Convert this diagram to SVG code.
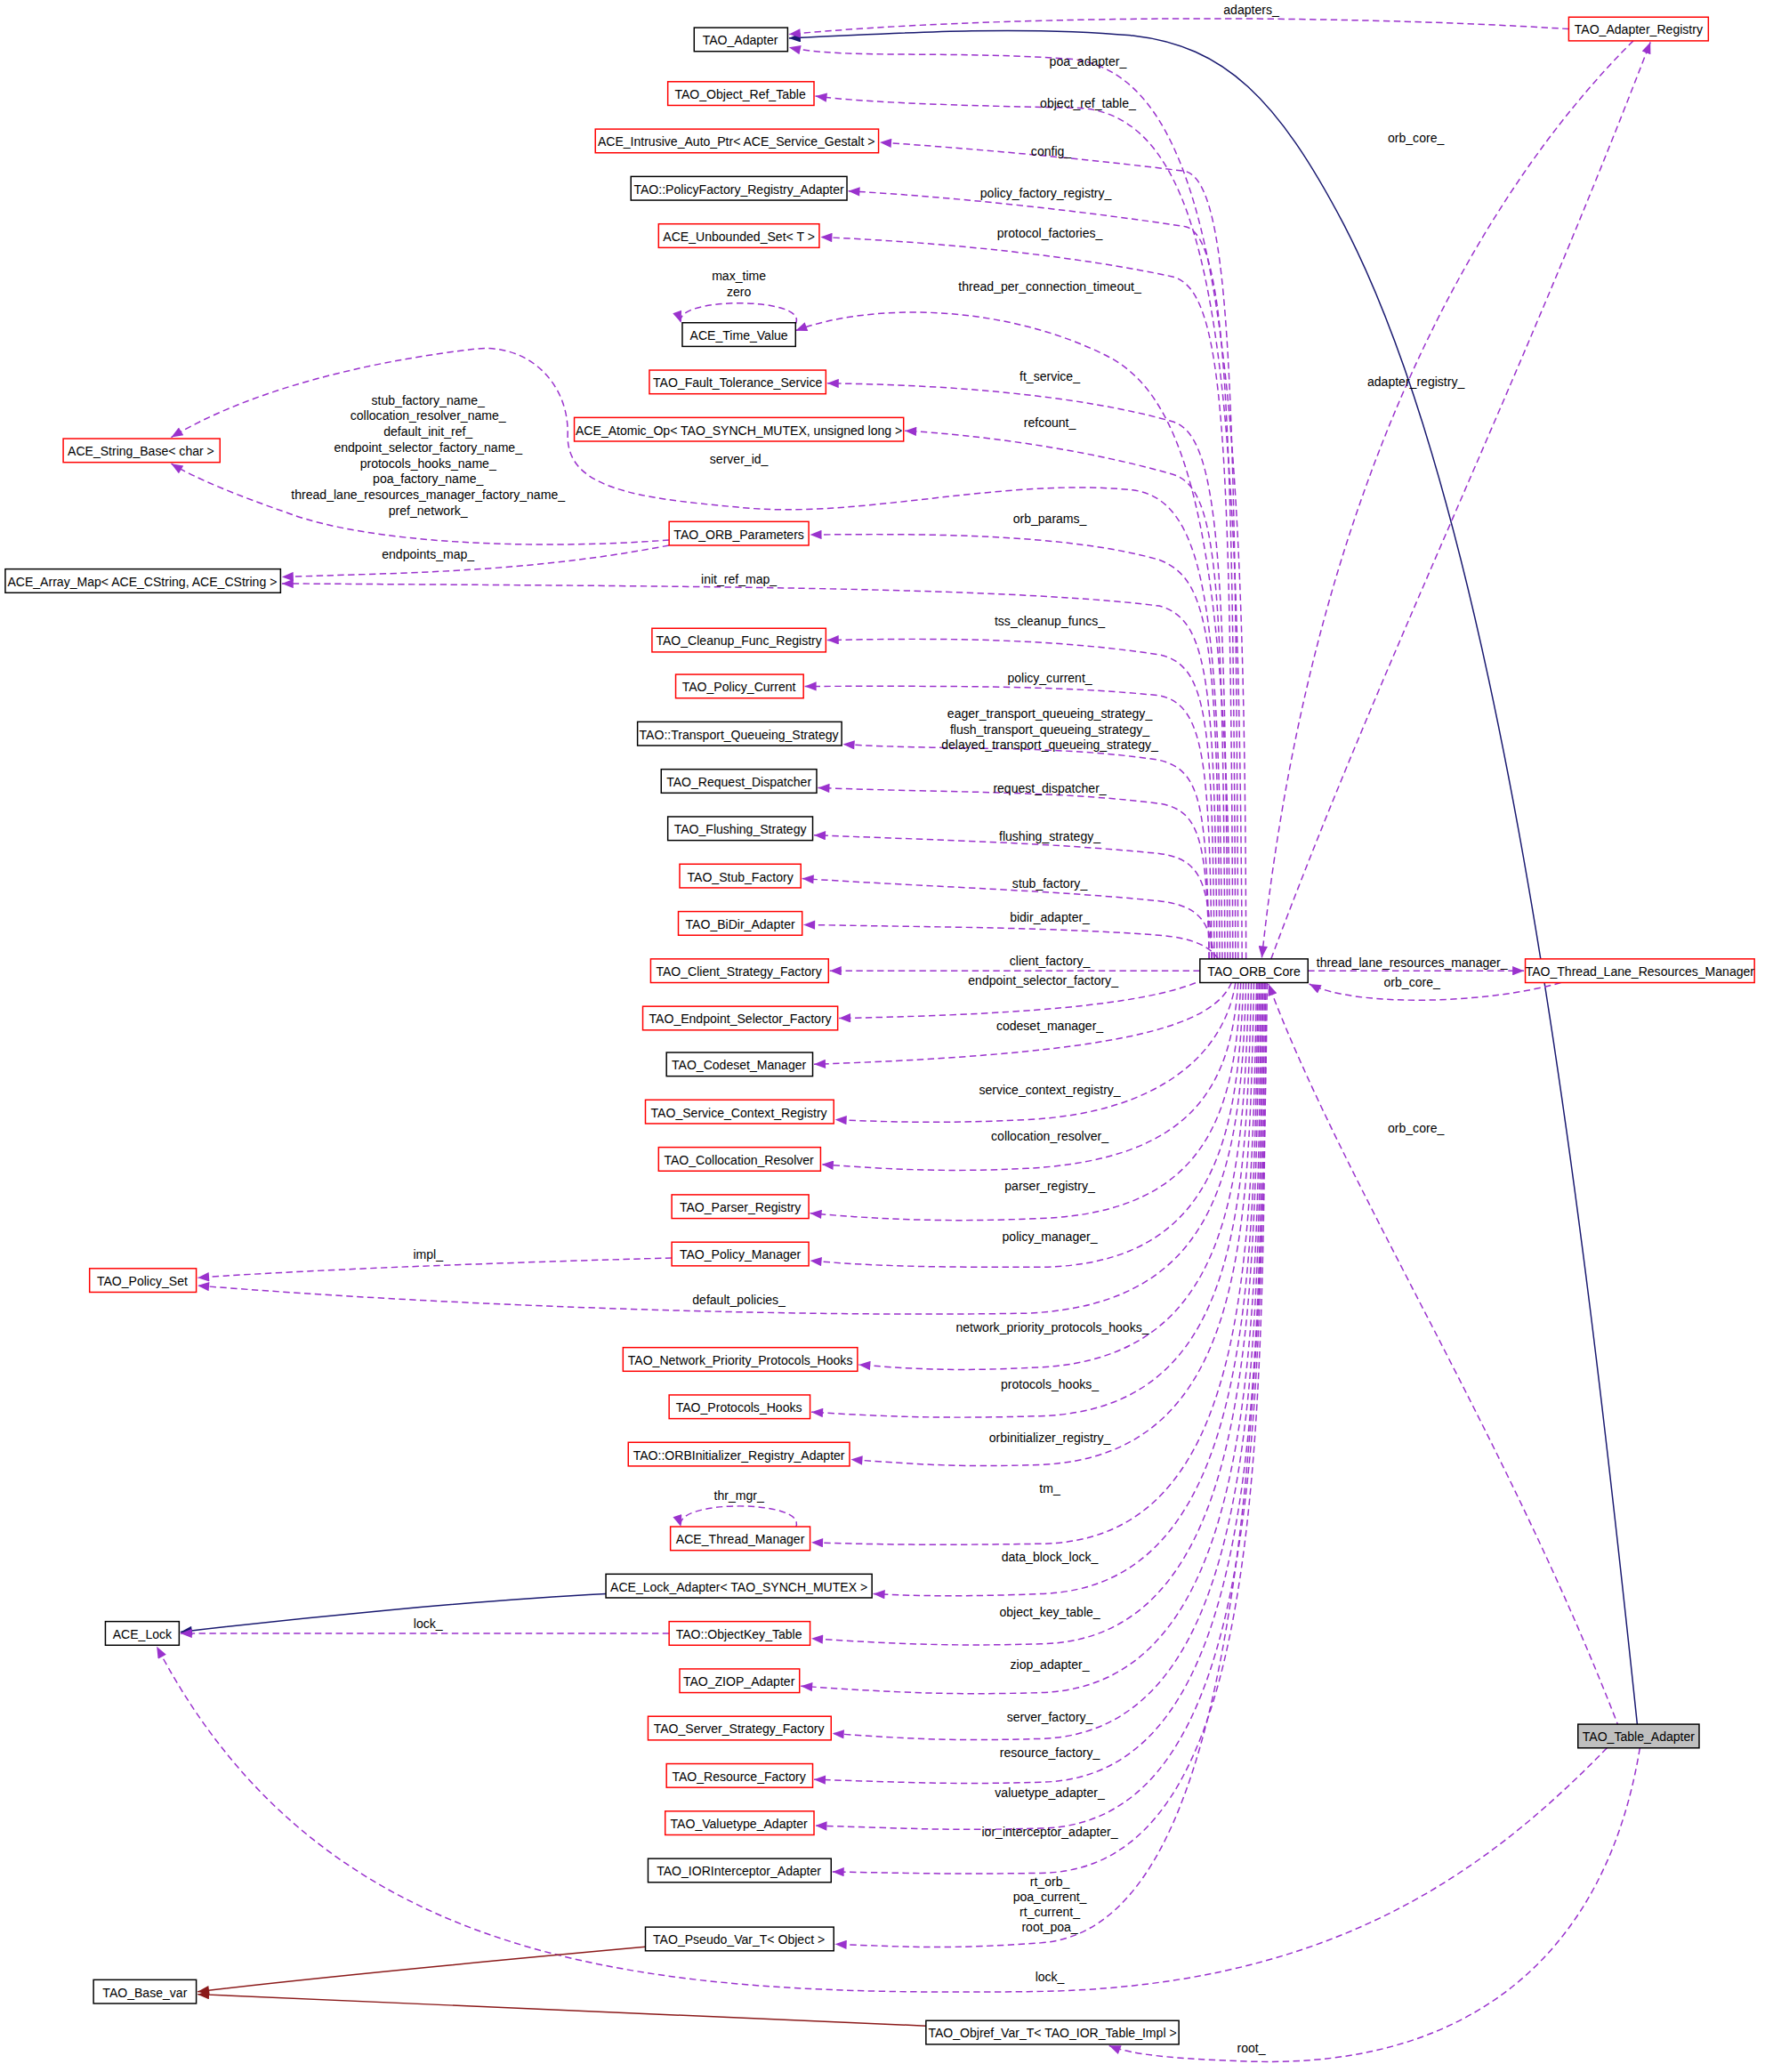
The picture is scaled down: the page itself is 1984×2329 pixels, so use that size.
<svg xmlns="http://www.w3.org/2000/svg" width="1984" height="2329" viewBox="0 0 1984 2329">
<style>
text{font-family:"Liberation Sans Narrow","Liberation Sans",Arial,sans-serif;font-size:9.5px;fill:#000;text-anchor:middle}
.n rect{fill:#fff;stroke:#000;stroke-width:1}
.r rect{stroke:#ff0000}
.d{fill:none;stroke:#9a32cd;stroke-width:1;stroke-dasharray:5,3;marker-end:url(#ap)}
.inh{fill:none;stroke:#191970;stroke-width:1;marker-end:url(#an)}
.tpl{fill:none;stroke:#8b1a1a;stroke-width:1;marker-end:url(#ar)}
</style>
<defs>
<marker id="ap" viewBox="0 0 10 8" refX="10" refY="4" markerWidth="10" markerHeight="7" markerUnits="userSpaceOnUse" orient="auto"><path d="M0,0L10,4L0,8z" fill="#9a32cd"/></marker>
<marker id="an" viewBox="0 0 10 8" refX="10" refY="4" markerWidth="10" markerHeight="7" markerUnits="userSpaceOnUse" orient="auto"><path d="M0,0L10,4L0,8z" fill="#191970"/></marker>
<marker id="ar" viewBox="0 0 10 8" refX="10" refY="4" markerWidth="10" markerHeight="7" markerUnits="userSpaceOnUse" orient="auto"><path d="M0,0L10,4L0,8z" fill="#8b1a1a"/></marker>
</defs>
<rect width="1984" height="2329" fill="#fff"/>
<g transform="scale(1.4806)">
<g id="edges">
<path class="inh" d="M1243,1309 C1200,900 1140,400 1020,170 C970,75 930,35 860,27 C780,20 700,24 599,29"/>
<path class="d" d="M1191,22 C1000,10 750,12 599,26"/><text x="950" y="11">adapters_</text>
<path class="d" d="M1240,31 C1150,120 1000,330 958,727"/><text x="1075" y="108">orb_core_</text>
<path class="d" d="M965,728 C1050,500 1150,300 1253,32"/><text x="1075" y="293">adapter_registry_</text>
<path class="d" d="M946,728 C945,300 930,60 815,45 C720,38 640,45 599,36"/><text x="826" y="50">poa_adapter_</text>
<path class="d" d="M943,728 C940,300 930,90 820,82 C720,80 660,78 619,73"/><text x="826" y="82">object_ref_table_</text>
<path class="d" d="M940,728 C938,300 935,140 900,130 C820,120 740,113 668,108"/><text x="798" y="118">config_</text>
<path class="d" d="M938,728 C936,320 932,180 900,172 C820,160 730,150 644,145"/><text x="794" y="150">policy_factory_registry_</text>
<path class="d" d="M936,728 C934,330 930,220 890,210 C820,195 720,184 623,180"/><text x="797" y="180">protocol_factories_</text>
<path class="d" d="M934,728 C932,400 900,300 840,270 C760,230 660,230 604,251"/><text x="797" y="221">thread_per_connection_timeout_</text>
<path class="d" d="M932,728 C930,420 925,330 890,320 C820,300 720,292 628,291"/><text x="797" y="289">ft_service_</text>
<path class="d" d="M930,728 C928,440 925,370 890,360 C820,340 740,330 687,327"/><text x="797" y="324">refcount_</text>
<path class="d" d="M928,728 C925,480 920,380 860,372 C760,362 650,395 560,385 C480,378 430,370 431,330 C432,290 400,260 360,265 C300,272 200,290 130,332"/><text x="561" y="352">server_id_</text>
<path class="d" d="M926,728 C924,490 920,440 880,425 C810,405 700,405 615,406"/><text x="797" y="397">orb_params_</text>
<path class="d" d="M924,728 C922,520 918,470 880,460 C760,445 500,445 214,443"/><text x="561" y="443">init_ref_map_</text>
<path class="d" d="M922,728 C920,550 918,505 880,497 C800,485 720,484 628,486"/><text x="797" y="475">tss_cleanup_funcs_</text>
<path class="d" d="M920,728 C918,580 915,535 880,528 C800,520 720,521 611,521"/><text x="797" y="518">policy_current_</text>
<path class="d" d="M918,728 C916,610 912,585 880,577 C800,565 720,570 640,565"/><text x="797" y="545">eager_transport_queueing_strategy_</text><text x="797" y="557">flush_transport_queueing_strategy_</text><text x="797" y="569">delayed_transport_queueing_strategy_</text>
<path class="d" d="M918,728 C916,640 912,615 880,610 C800,600 720,602 621,598"/><text x="797" y="602">request_dispatcher_</text>
<path class="d" d="M920,728 C918,670 912,652 880,648 C800,640 720,638 618,634"/><text x="797" y="638">flushing_strategy_</text>
<path class="d" d="M922,728 C918,700 912,688 880,684 C800,676 720,674 609,667"/><text x="797" y="674">stub_factory_</text>
<path class="d" d="M925,728 C918,718 905,712 880,710 C800,704 720,704 610,702"/><text x="797" y="700">bidir_adapter_</text>
<path class="d" d="M911,737 L630,737"/><text x="797" y="733">client_factory_</text>
<path class="d" d="M915,743 C880,760 800,770 637,773"/><text x="792" y="748">endpoint_selector_factory_</text>
<path class="d" d="M935,746 C920,780 850,800 618,808"/><text x="797" y="782">codeset_manager_</text>
<path class="d" d="M938,746 C930,800 880,845 780,850 C720,853 680,852 634,850"/><text x="797" y="831">service_context_registry_</text>
<path class="d" d="M940,746 C935,820 910,880 780,887 C720,890 680,888 624,884"/><text x="797" y="866">collocation_resolver_</text>
<path class="d" d="M942,746 C938,840 920,920 790,925 C720,928 670,926 615,921"/><text x="797" y="904">parser_registry_</text>
<path class="d" d="M944,746 C940,860 925,960 790,962 C720,962 670,962 615,957"/><text x="797" y="942">policy_manager_</text>
<path class="d" d="M946,746 C942,880 930,990 780,997 C600,1000 350,992 150,976"/><text x="561" y="990">default_policies_</text>
<path class="d" d="M948,746 C944,900 935,1030 790,1038 C730,1041 700,1040 652,1036"/><text x="799" y="1011">network_priority_protocols_hooks_</text>
<path class="d" d="M950,746 C946,920 940,1070 790,1075 C720,1077 680,1076 616,1072"/><text x="797" y="1054">protocols_hooks_</text>
<path class="d" d="M952,746 C948,940 945,1105 790,1112 C730,1114 700,1112 646,1108"/><text x="797" y="1095">orbinitializer_registry_</text>
<path class="d" d="M954,746 C950,960 948,1170 790,1172 C720,1173 680,1173 616,1171"/><text x="797" y="1133">tm_</text>
<path class="d" d="M955,746 C952,980 950,1205 790,1210 C740,1212 700,1212 663,1210"/><text x="797" y="1185">data_block_lock_</text>
<path class="d" d="M956,746 C953,1000 952,1245 790,1248 C720,1250 680,1248 616,1244"/><text x="797" y="1227">object_key_table_</text>
<path class="d" d="M957,746 C955,1020 955,1280 790,1285 C720,1287 680,1285 608,1280"/><text x="797" y="1267">ziop_adapter_</text>
<path class="d" d="M958,746 C956,1040 957,1315 790,1320 C720,1322 690,1320 632,1316"/><text x="797" y="1307">server_factory_</text>
<path class="d" d="M959,746 C957,1060 958,1350 790,1353 C720,1355 690,1353 618,1351"/><text x="797" y="1334">resource_factory_</text>
<path class="d" d="M960,746 C958,1080 959,1385 790,1388 C720,1390 690,1388 619,1386"/><text x="797" y="1364">valuetype_adapter_</text>
<path class="d" d="M961,746 C959,1100 960,1420 790,1422 C720,1423 690,1422 632,1421"/><text x="797" y="1394">ior_interceptor_adapter_</text>
<path class="d" d="M962,746 C958,1150 930,1465 790,1475 C720,1480 690,1478 634,1476"/><text x="797" y="1432">rt_orb_</text><text x="797" y="1443">poa_current_</text><text x="797" y="1455">rt_current_</text><text x="797" y="1466">root_poa_</text>
<path class="d" d="M993,737 L1157,737"/><text x="1072" y="734">thread_lane_resources_manager_</text>
<path class="d" d="M1185,746 C1130,762 1030,765 994,747"/><text x="1072" y="749">orb_core_</text>
<path class="d" d="M1235,1327 C1150,1100 1020,900 963,747"/><text x="1075" y="860">orb_core_</text>
<path class="d" d="M1220,1327 C1120,1430 1000,1510 780,1512 C500,1515 250,1500 119,1250"/><text x="797" y="1504">lock_</text>
<path class="d" d="M1245,1327 C1220,1480 1120,1570 950,1565 C890,1563 860,1560 842,1553"/><text x="950" y="1558">root_</text>
<path class="d" d="M604,246 C615,225 510,225 517,245"/><text x="561" y="213">max_time</text><text x="561" y="225">zero</text>
<path class="d" d="M604,1160 C615,1138 510,1138 517,1159"/><text x="561" y="1139">thr_mgr_</text>
<path class="d" d="M508,410 C400,418 280,412 220,390 C180,376 150,364 130,352"/><text x="325" y="307">stub_factory_name_</text><text x="325" y="319">collocation_resolver_name_</text><text x="325" y="331">default_init_ref_</text><text x="325" y="343">endpoint_selector_factory_name_</text><text x="325" y="355">protocols_hooks_name_</text><text x="325" y="367">poa_factory_name_</text><text x="325" y="379">thread_lane_resources_manager_factory_name_</text><text x="325" y="391">pref_network_</text>
<path class="d" d="M508,414 C400,435 300,435 214,438"/><text x="325" y="424">endpoints_map_</text>
<path class="d" d="M510,955 C400,958 250,963 150,970"/><text x="325" y="956">impl_</text>
<path class="inh" d="M460,1210 C360,1215 230,1228 137,1239"/>
<path class="d" d="M508,1240 L137,1240"/><text x="325" y="1236">lock_</text>
<path class="tpl" d="M490,1478 C380,1488 250,1500 150,1512"/>
<path class="tpl" d="M703,1538 C500,1530 300,1520 150,1514"/>
</g>
<g id="TAO_Table_Adapter" class="n"><rect x="1198" y="1309" width="92" height="18" style="fill:#bfbfbf"/><text x="1244" y="1322">TAO_Table_Adapter</text></g>
<g id="TAO_ORB_Core" class="n"><rect x="911" y="728" width="82" height="18"/><text x="952" y="741">TAO_ORB_Core</text></g>
<g id="TAO_Adapter_Registry" class="n r"><rect x="1191" y="13" width="106" height="18"/><text x="1244" y="26">TAO_Adapter_Registry</text></g>
<g id="TAO_Thread_Lane_Resources_Manager" class="n r"><rect x="1158" y="728" width="174" height="18"/><text x="1245" y="741">TAO_Thread_Lane_Resources_Manager</text></g>
<g id="TAO_Adapter" class="n"><rect x="527" y="21" width="71" height="18"/><text x="562" y="34">TAO_Adapter</text></g>
<g id="TAO_Object_Ref_Table" class="n r"><rect x="507" y="62" width="111" height="18"/><text x="562" y="75">TAO_Object_Ref_Table</text></g>
<g id="ACE_Intrusive_Auto_Ptr" class="n r"><rect x="452" y="98" width="215" height="18"/><text x="559" y="111">ACE_Intrusive_Auto_Ptr&lt; ACE_Service_Gestalt &gt;</text></g>
<g id="TAO_PolicyFactory_Registry_Adapter" class="n"><rect x="479" y="134" width="164" height="18"/><text x="561" y="147">TAO::PolicyFactory_Registry_Adapter</text></g>
<g id="ACE_Unbounded_Set" class="n r"><rect x="500" y="170" width="122" height="18"/><text x="561" y="183">ACE_Unbounded_Set&lt; T &gt;</text></g>
<g id="ACE_Time_Value" class="n"><rect x="518" y="245" width="86" height="18"/><text x="561" y="258">ACE_Time_Value</text></g>
<g id="TAO_Fault_Tolerance_Service" class="n r"><rect x="493" y="281" width="134" height="18"/><text x="560" y="294">TAO_Fault_Tolerance_Service</text></g>
<g id="ACE_Atomic_Op" class="n r"><rect x="436" y="317" width="250" height="18"/><text x="561" y="330">ACE_Atomic_Op&lt; TAO_SYNCH_MUTEX, unsigned long &gt;</text></g>
<g id="TAO_ORB_Parameters" class="n r"><rect x="508" y="396" width="106" height="18"/><text x="561" y="409">TAO_ORB_Parameters</text></g>
<g id="TAO_Cleanup_Func_Registry" class="n r"><rect x="495" y="477" width="132" height="18"/><text x="561" y="490">TAO_Cleanup_Func_Registry</text></g>
<g id="TAO_Policy_Current" class="n r"><rect x="513" y="512" width="97" height="18"/><text x="561" y="525">TAO_Policy_Current</text></g>
<g id="TAO_Transport_Queueing_Strategy" class="n"><rect x="484" y="548" width="155" height="18"/><text x="561" y="561">TAO::Transport_Queueing_Strategy</text></g>
<g id="TAO_Request_Dispatcher" class="n"><rect x="502" y="584" width="118" height="18"/><text x="561" y="597">TAO_Request_Dispatcher</text></g>
<g id="TAO_Flushing_Strategy" class="n"><rect x="507" y="620" width="110" height="18"/><text x="562" y="633">TAO_Flushing_Strategy</text></g>
<g id="TAO_Stub_Factory" class="n r"><rect x="516" y="656" width="92" height="18"/><text x="562" y="669">TAO_Stub_Factory</text></g>
<g id="TAO_BiDir_Adapter" class="n r"><rect x="515" y="692" width="94" height="18"/><text x="562" y="705">TAO_BiDir_Adapter</text></g>
<g id="TAO_Client_Strategy_Factory" class="n r"><rect x="494" y="728" width="135" height="18"/><text x="561" y="741">TAO_Client_Strategy_Factory</text></g>
<g id="TAO_Endpoint_Selector_Factory" class="n r"><rect x="488" y="764" width="148" height="18"/><text x="562" y="777">TAO_Endpoint_Selector_Factory</text></g>
<g id="TAO_Codeset_Manager" class="n"><rect x="506" y="799" width="111" height="18"/><text x="561" y="812">TAO_Codeset_Manager</text></g>
<g id="TAO_Service_Context_Registry" class="n r"><rect x="490" y="835" width="143" height="18"/><text x="561" y="848">TAO_Service_Context_Registry</text></g>
<g id="TAO_Collocation_Resolver" class="n r"><rect x="500" y="871" width="123" height="18"/><text x="561" y="884">TAO_Collocation_Resolver</text></g>
<g id="TAO_Parser_Registry" class="n r"><rect x="510" y="907" width="104" height="18"/><text x="562" y="920">TAO_Parser_Registry</text></g>
<g id="TAO_Policy_Manager" class="n r"><rect x="510" y="943" width="104" height="18"/><text x="562" y="956">TAO_Policy_Manager</text></g>
<g id="TAO_Network_Priority_Protocols_Hooks" class="n r"><rect x="473" y="1023" width="178" height="18"/><text x="562" y="1036">TAO_Network_Priority_Protocols_Hooks</text></g>
<g id="TAO_Protocols_Hooks" class="n r"><rect x="508" y="1059" width="107" height="18"/><text x="561" y="1072">TAO_Protocols_Hooks</text></g>
<g id="TAO_ORBInitializer_Registry_Adapter" class="n r"><rect x="477" y="1095" width="168" height="18"/><text x="561" y="1108">TAO::ORBInitializer_Registry_Adapter</text></g>
<g id="ACE_Thread_Manager" class="n r"><rect x="509" y="1159" width="106" height="18"/><text x="562" y="1172">ACE_Thread_Manager</text></g>
<g id="ACE_Lock_Adapter" class="n"><rect x="460" y="1195" width="202" height="18"/><text x="561" y="1208">ACE_Lock_Adapter&lt; TAO_SYNCH_MUTEX &gt;</text></g>
<g id="TAO_ObjectKey_Table" class="n r"><rect x="508" y="1231" width="107" height="18"/><text x="561" y="1244">TAO::ObjectKey_Table</text></g>
<g id="TAO_ZIOP_Adapter" class="n r"><rect x="516" y="1267" width="91" height="18"/><text x="561" y="1280">TAO_ZIOP_Adapter</text></g>
<g id="TAO_Server_Strategy_Factory" class="n r"><rect x="492" y="1303" width="139" height="18"/><text x="561" y="1316">TAO_Server_Strategy_Factory</text></g>
<g id="TAO_Resource_Factory" class="n r"><rect x="506" y="1339" width="111" height="18"/><text x="561" y="1352">TAO_Resource_Factory</text></g>
<g id="TAO_Valuetype_Adapter" class="n r"><rect x="505" y="1375" width="113" height="18"/><text x="561" y="1388">TAO_Valuetype_Adapter</text></g>
<g id="TAO_IORInterceptor_Adapter" class="n"><rect x="492" y="1411" width="139" height="18"/><text x="561" y="1424">TAO_IORInterceptor_Adapter</text></g>
<g id="TAO_Pseudo_Var_T" class="n"><rect x="490" y="1463" width="143" height="18"/><text x="561" y="1476">TAO_Pseudo_Var_T&lt; Object &gt;</text></g>
<g id="TAO_Objref_Var_T" class="n"><rect x="703" y="1534" width="192" height="18"/><text x="799" y="1547">TAO_Objref_Var_T&lt; TAO_IOR_Table_Impl &gt;</text></g>
<g id="ACE_String_Base" class="n r"><rect x="48" y="333" width="119" height="18"/><text x="107" y="346">ACE_String_Base&lt; char &gt;</text></g>
<g id="ACE_Array_Map" class="n"><rect x="4" y="432" width="209" height="18"/><text x="108" y="445">ACE_Array_Map&lt; ACE_CString, ACE_CString &gt;</text></g>
<g id="TAO_Policy_Set" class="n r"><rect x="68" y="963" width="81" height="18"/><text x="108" y="976">TAO_Policy_Set</text></g>
<g id="ACE_Lock" class="n"><rect x="80" y="1231" width="56" height="18"/><text x="108" y="1244">ACE_Lock</text></g>
<g id="TAO_Base_var" class="n"><rect x="71" y="1503" width="78" height="18"/><text x="110" y="1516">TAO_Base_var</text></g>
</g>
</svg>
